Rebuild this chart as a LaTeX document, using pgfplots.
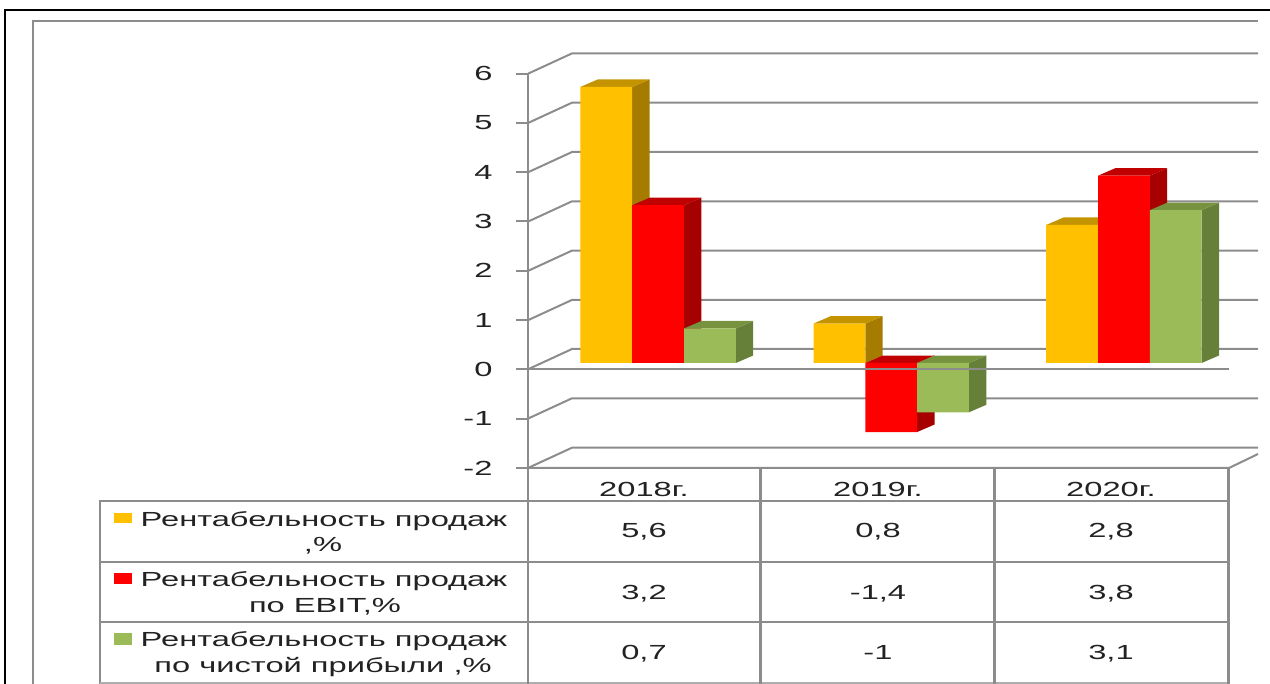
\documentclass[border=0pt]{standalone}
\usepackage{pgfplots}
\pgfplotsset{compat=1.18}
\usepackage{fontspec}
\setmainfont[FakeStretch=1.6]{Liberation Sans}
\definecolor{gl}{HTML}{8C8C8C}
\definecolor{tx}{HTML}{222222}
\definecolor{oF}{HTML}{FFC000}\definecolor{oT}{HTML}{C49400}\definecolor{oS}{HTML}{A67C00}
\definecolor{rF}{HTML}{FF0000}\definecolor{rT}{HTML}{C00000}\definecolor{rS}{HTML}{A60000}
\definecolor{gF}{HTML}{9BBB59}\definecolor{gT}{HTML}{77933F}\definecolor{gS}{HTML}{66803A}
% one bar's 3-D faces: #1 left edge in px, #2 value, #3 top colour, #4 side colour
\newcommand\faces[4]{%
  \pgfmathsetmacro\xl{#1}\pgfmathsetmacro\xr{#1+51.8}%
  \pgfmathsetmacro\xL{#1+17.4}\pgfmathsetmacro\xR{#1+51.8+17.4}%
  \pgfmathsetmacro\vv{#2}\pgfmathsetmacro\vh{#2+0.152}%
  \pgfmathsetmacro\tt{max(#2,0)}\pgfmathsetmacro\th{max(#2,0)+0.152}%
  \addplot[fill=#4,draw=none,forget plot] coordinates {(\xr,0)(\xr,\vv)(\xR,\vh)(\xR,0.152)} --cycle;
  \addplot[fill=#3,draw=none,forget plot] coordinates {(\xl,\tt)(\xr,\tt)(\xR,\th)(\xL,\th)} --cycle;
}
\newcommand\cell[3]{\node[anchor=base,font=\fontsize{20.4}{25}\selectfont,text=tx,inner sep=0pt] at (#1,#2) {#3};}
\begin{document}
\begin{tikzpicture}
\path[use as bounding box] (0pt,0pt) rectangle (1270pt,-684pt);
\begin{scope}[x=1pt,y=-1pt]
\draw[black,line width=2.4pt] (5,684) -- (5,10) -- (1270,10);
\draw[gl,line width=2.4pt] (33,684) -- (33,21) -- (1258,21);
% back wall grid
\foreach \yy in {73.7,123,172.3,221.6,270.9,320.2,369.3,418.6,468}{
  \draw[gl,line width=2pt] (528,\yy) -- (572,\yy-20.3) -- (1258,\yy-20.3);
}
\draw[gl,line width=2pt] (528,468) -- (1229,468) -- (1258,454);
\end{scope}
\begin{axis}[at={(528pt,-468pt)},anchor=south west,x=1pt,y=49.3pt,
  xmin=528,xmax=1228,ymin=-2,ymax=6,clip=false,
  axis x line=none,axis y line*=left,axis line style={gl,line width=2.4pt,-},
  ytick={-2,-1,0,1,2,3,4,5,6},yticklabels={-2,-1,0,1,2,3,4,5,6},
  major tick length=12pt,tick align=outside,tick style={gl,line width=2pt},
  yticklabel style={font=\fontsize{20.4}{25}\selectfont,text=tx,xshift=-20pt}]
\end{axis}
\begin{axis}[at={(528pt,-461.6pt)},anchor=south west,x=1pt,y=49.3pt,
  xmin=528,xmax=1228,ymin=-2,ymax=6,clip=false,hide axis]
\faces{580.4}{5.6}{oT}{oS}\faces{813.5}{0.8}{oT}{oS}\faces{1046.2}{2.8}{oT}{oS}
\addplot[ybar,bar width=51.8pt,bar shift=-51.8pt,fill=oF,draw=none,forget plot]
  coordinates {(658.1,5.6)(891.2,0.8)(1123.9,2.8)};
\faces{632.2}{3.2}{rT}{rS}\faces{865.3}{-1.4}{rT}{rS}\faces{1098}{3.8}{rT}{rS}
\addplot[ybar,bar width=51.8pt,bar shift=0pt,fill=rF,draw=none,forget plot]
  coordinates {(658.1,3.2)(891.2,-1.4)(1123.9,3.8)};
\faces{684}{0.7}{gT}{gS}\faces{917.1}{-1}{gT}{gS}\faces{1149.8}{3.1}{gT}{gS}
\addplot[ybar,bar width=51.8pt,bar shift=51.8pt,fill=gF,draw=none,forget plot]
  coordinates {(658.1,0.7)(891.2,-1)(1123.9,3.1)};
\end{axis}
\begin{scope}[x=1pt,y=-1pt]
\draw[gl,line width=2pt] (528,369.3) -- (1229,369.3);
% table grid
\draw[gl,line width=2.4pt] (100,684) -- (100,501) -- (1229,501);
\draw[gl,line width=2.4pt] (100,561.7) -- (1229,561.7);
\draw[gl,line width=2.4pt] (100,622) -- (1229,622);
\draw[gl!70,line width=1.4pt] (100,682.8) -- (1229,682.8);
\foreach \xx in {528,760.5,994.5,1228.5}{\draw[gl,line width=2.4pt] (\xx,468) -- (\xx,684);}
% legend keys
\fill[oF] (114,512.7) rectangle (132,523);
\fill[rF] (114,572.7) rectangle (132,584);
\fill[gF] (114,633) rectangle (132,644.5);
% text
\cell{324}{526}{Рентабельность продаж}
\cell{323}{551}{,\%}
\cell{324}{586}{Рентабельность продаж}
\cell{325}{612}{по EBIT,\%}
\cell{324}{646}{Рентабельность продаж}
\cell{323}{672}{по чистой прибыли ,\%}
\cell{644}{497}{2018г.}\cell{878}{497}{2019г.}\cell{1111}{497}{2020г.}
\cell{644}{538}{5,6}\cell{878}{538}{0,8}\cell{1111}{538}{2,8}
\cell{644}{599}{3,2}\cell{878}{599}{-1,4}\cell{1111}{599}{3,8}
\cell{644}{659}{0,7}\cell{878}{659}{-1}\cell{1111}{659}{3,1}
\end{scope}
\end{tikzpicture}
\end{document}
